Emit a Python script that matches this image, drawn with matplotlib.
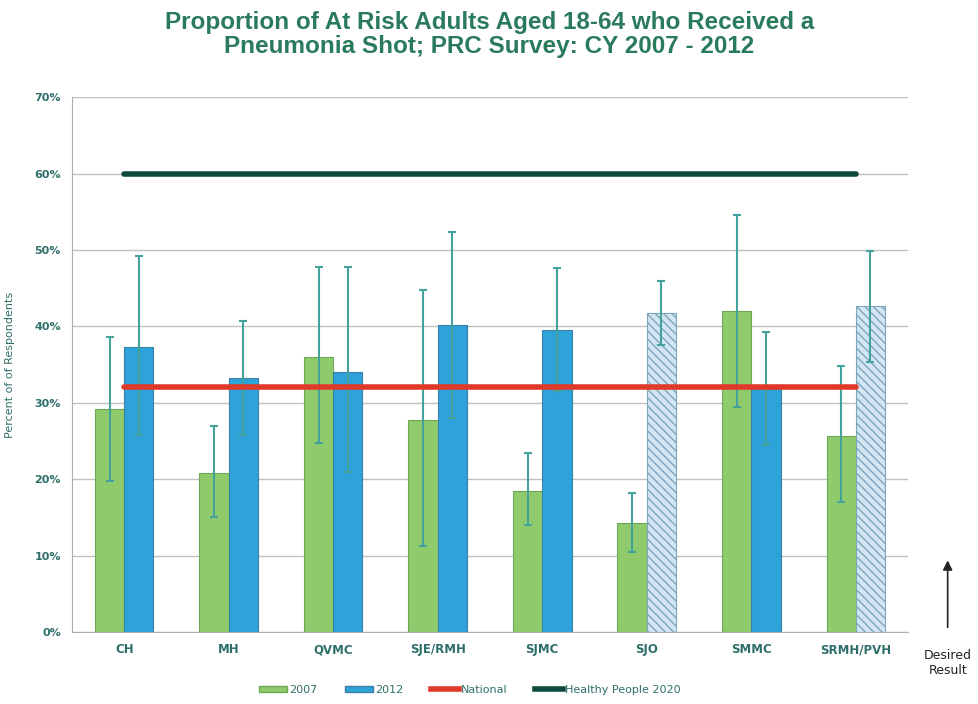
import numpy as np
import matplotlib.pyplot as plt
from matplotlib.patches import Patch
from matplotlib.lines import Line2D

# valores
sites = ['CH', 'MH', 'QVMC', 'SJE/RMH', 'SJMC', 'SJO', 'SMMC', 'SRMH/PVH']
v2007 = [29.2, 20.8, 36.0, 27.7, 18.5, 14.3, 42.0, 25.7]
lo2007 = [19.8, 15.0, 24.7, 11.2, 14.0, 10.5, 29.5, 17.0]
hi2007 = [38.6, 26.9, 47.8, 44.8, 23.4, 18.2, 54.6, 34.8]
v2012 = [37.3, 33.2, 34.0, 40.2, 39.5, 41.8, 32.0, 42.6]
lo2012 = [25.8, 25.8, 20.9, 28.0, 31.5, 37.5, 24.5, 35.3]
hi2012 = [49.2, 40.7, 47.8, 52.4, 47.7, 46.0, 39.2, 49.8]
hatched_2012 = [False, False, False, False, False, True, False, True]
national = 32
healthy_people = 60

teal = '#2f6f6a'
green = '#8fca6c'
blue = '#2ea3d9'

fig = plt.figure(figsize=(9.79, 7.04), dpi=100)
ax = fig.add_axes([0.0735, 0.1023, 0.854, 0.7597])

x = np.arange(len(sites))
w = 0.28

ax.bar(x - w/2, v2007, w, color=green, edgecolor='#6fa855', linewidth=0.8, zorder=2)

# as barras tracejadas de 2012 (SJO e SRMH/PVH)
cols = ['#d4e6f1' if h else blue for h in hatched_2012]
bars = ax.bar(x + w/2, v2012, w, color=cols, edgecolor='#3a7fa8', linewidth=0.8, zorder=2)
for b, h in zip(bars, hatched_2012):
    if h:
        b.set_hatch('\\\\\\\\')
        b.set_edgecolor('#7fa6bf')

err_kw = dict(fmt='none', ecolor='#45a29b', elinewidth=1.5, capsize=3, capthick=1.5, zorder=3)
ax.errorbar(x - w/2, v2007, yerr=[np.array(v2007) - np.array(lo2007), np.array(hi2007) - np.array(v2007)], **err_kw)
ax.errorbar(x + w/2, v2012, yerr=[np.array(v2012) - np.array(lo2012), np.array(hi2012) - np.array(v2012)], **err_kw)

ax.plot([x[0], x[-1]], [national, national], color='#e0392a', linewidth=4, zorder=4, solid_capstyle='round')
ax.plot([x[0], x[-1]], [healthy_people, healthy_people], color='#0e4a3c', linewidth=4, zorder=4, solid_capstyle='round')

ax.set_xlim(-0.5, len(sites) - 0.5)
ax.set_ylim(0, 70)
ax.set_yticks(np.arange(0, 71, 10))
ax.set_yticklabels([f'{t}%' for t in range(0, 71, 10)], fontsize=8, fontweight='bold', color=teal)
ax.set_xticks(x)
ax.set_xticklabels(sites, fontsize=8.5, fontweight='bold', color=teal)
ax.tick_params(axis='both', length=0, pad=8)
ax.grid(axis='y', color='#c0c0c0', linewidth=1, zorder=0)
ax.set_axisbelow(True)
for s in ['top', 'right']:
    ax.spines[s].set_visible(False)
ax.spines['left'].set_color('#a8b0b0')
ax.spines['bottom'].set_color('#a8b0b0')
ax.set_ylabel('Percent of of Respondents', fontsize=8, color=teal, labelpad=14)

fig.suptitle('Proportion of At Risk Adults Aged 18-64 who Received a\nPneumonia Shot; PRC Survey: CY 2007 - 2012',
             fontsize=17.5, fontweight='bold', color='#2a7a5c', y=0.985, family='Liberation Sans',
             linespacing=1.1)

handles = [Patch(facecolor=green, edgecolor='#6fa855'),
           Patch(facecolor=blue, edgecolor='#3a7fa8'),
           Line2D([0], [0], color='#e0392a', linewidth=4),
           Line2D([0], [0], color='#0e4a3c', linewidth=4)]
fig.legend(handles, ['2007', '2012', 'National', 'Healthy People 2020'], loc='center',
           bbox_to_anchor=(0.48, 0.02), ncol=4, frameon=False, fontsize=8,
           labelcolor=teal, handlelength=2.5, handleheight=0.5, handletextpad=0.2, columnspacing=2.5)

# seta "Desired Result"
ax.annotate('', xy=(0.968, 0.208), xytext=(0.968, 0.105),
            xycoords='figure fraction', textcoords='figure fraction',
            arrowprops=dict(arrowstyle='-|>', color='#222222', lw=1.2, mutation_scale=14))
fig.text(0.968, 0.058, 'Desired\nResult', ha='center', va='center', fontsize=9, color='#222222')

fig.savefig('out.png', dpi=100)
